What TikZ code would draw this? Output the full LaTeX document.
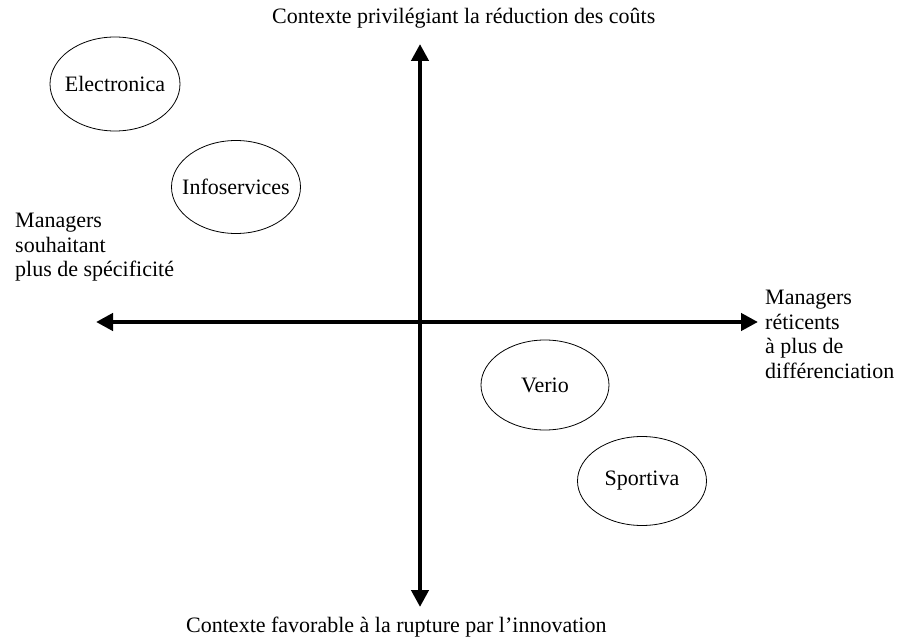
\documentclass[tikz,border=0pt]{standalone}
\usepackage{fontspec}
\setmainfont{Liberation Serif}
\usetikzlibrary{arrows.meta,shapes.geometric}

\begin{document}
\begin{tikzpicture}[x=1pt,y=-1pt]
    \tikzstyle{firm}=[draw, ellipse, line width=0.8pt, inner sep=0pt, label={[font=\fontsize{22}{24}\selectfont, inner sep=0pt]center:#1}]
    \tikzstyle{axis}=[line width=4.5pt, {Triangle[length=17pt,width=17pt]}-{Triangle[length=17pt,width=17pt]}]
    \tikzstyle{lbl}=[inner sep=0pt, font=\fontsize{22}{24.5}\selectfont]

    \useasboundingbox (0,0) rectangle (903,639);

    % axes
    \coordinate(a_top) at (420, 44);
    \coordinate(a_bot) at (420, 607);
    \coordinate(a_left) at (96, 322);
    \coordinate(a_right) at (758, 322);
    \draw[style=axis] (a_top) -- (a_bot);
    \draw[style=axis] (a_left) -- (a_right);

    % axis labels
    \node[lbl, anchor=base west](l_top) at (272, 24) {Contexte privilégiant la réduction des coûts};
    \node[lbl, anchor=base west](l_bot) at (186, 632) {Contexte favorable à la rupture par l’innovation};
    \node[lbl, anchor=north west, align=left](l_left) at (15, 213) {Managers\\souhaitant\\plus de spécificité};
    \node[lbl, anchor=north west, align=left](l_right) at (765, 290) {Managers\\réticents\\à plus de\\différenciation};

    % firms
    \node[firm=Electronica, minimum width=130pt, minimum height=94pt](f_elec) at (115, 84) {};
    \node[firm=Infoservices, minimum width=129pt, minimum height=93pt](f_info) at (236, 187) {};
    \node[firm=Verio, minimum width=128pt, minimum height=90pt](f_verio) at (545, 385) {};
    \node[firm=Sportiva, minimum width=129pt, minimum height=89pt](f_sport) at (642, 481) {};

\end{tikzpicture}
\end{document}
